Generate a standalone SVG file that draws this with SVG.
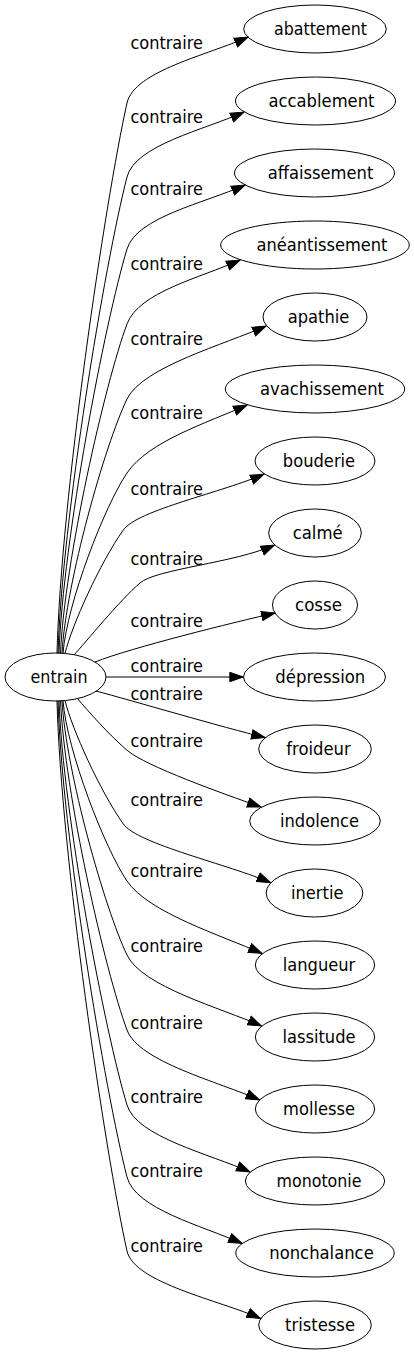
<svg xmlns="http://www.w3.org/2000/svg" width="414" height="1355" viewBox="0 0 414 1355">
<style>
.n ellipse{fill:none;stroke:#000;stroke-width:1}
text{font-family:"DejaVu Sans","Liberation Sans",sans-serif;font-size:18px;fill:#000;text-anchor:middle}
.e path{fill:none;stroke:#000;stroke-width:1;marker-end:url(#arr)}
</style>
<defs>
<marker id="arr" markerUnits="userSpaceOnUse" markerWidth="15" markerHeight="11" viewBox="0 0 15 11" refX="14" refY="5.5" orient="auto">
<path d="M0.5,0.8 L14,5.5 L0.5,10.2 Z" fill="#000" stroke="#000" stroke-width="1"/>
</marker>
</defs>
<rect width="414" height="1355" fill="#fff"/>
<g id="edges" class="e">
<path d="M57,653.3 C61,499 105,202 127,103 C134.1,71 208,55 248,37"/>
<path d="M58,653.3 C62,519.7 105,262.7 127,177 C135.2,145 204,130 244,112"/>
<path d="M59,653.3 C63,540 105,321.7 127,249 C136.7,217 205,203 245,185"/>
<path d="M60.5,653.3 C64.5,561 105,383.2 127,324 C138.9,292 200,278 240,260"/>
<path d="M62,653.3 C66,582 105,444.7 127,399 C142.4,367 226,344 266,326"/>
<path d="M63,653.4 C67,602.6 105,505.4 127,473 C148.7,441 207,423 247,405"/>
<path d="M65,653.4 C72,625 100,563 123.3,530 C137.3,510 224,492 264,474"/>
<path d="M74,655 C85,643 120,600 140,583 C156,569 234.5,563 274.5,545"/>
<path d="M95,662 C130,648 235,622 275,613"/>
<path d="M106,677 L243.3,677"/>
<path d="M96,691 C130,700 225,728 265,737.5"/>
<path d="M77,698 C88,711 110,736 128,751 C146,766 221,793 261,807"/>
<path d="M65,700.6 C72,729 100,791 123.3,824 C137.3,844 230.5,865 270.5,882.7"/>
<path d="M63,700.6 C67,751.4 105,848.6 127,881 C148.7,913 222,935.5 262,953.5"/>
<path d="M62,700.7 C66,772 105,909.3 127,955 C142.4,987 221.5,1008 261.5,1026"/>
<path d="M60.5,700.7 C64.5,793 105,970.8 127,1030 C138.9,1062 219.5,1082 259.5,1100"/>
<path d="M59,700.7 C63,814 105,1032.3 127,1105 C136.7,1137 210,1154 250,1172"/>
<path d="M58,700.7 C62,834.3 105,1091.3 127,1177 C135.2,1209 202,1225.5 242,1243.5"/>
<path d="M57,700.7 C61,855 105,1152 127,1251 C134.1,1283 220.5,1300.5 260.5,1318.5"/>
</g>
<g id="edge-labels">
<text x="166.7" y="49" textLength="72.5" lengthAdjust="spacingAndGlyphs">contraire</text>
<text x="166.7" y="123" textLength="72.5" lengthAdjust="spacingAndGlyphs">contraire</text>
<text x="166.7" y="195" textLength="72.5" lengthAdjust="spacingAndGlyphs">contraire</text>
<text x="166.7" y="270" textLength="72.5" lengthAdjust="spacingAndGlyphs">contraire</text>
<text x="166.7" y="345" textLength="72.5" lengthAdjust="spacingAndGlyphs">contraire</text>
<text x="166.7" y="419" textLength="72.5" lengthAdjust="spacingAndGlyphs">contraire</text>
<text x="166.7" y="495" textLength="72.5" lengthAdjust="spacingAndGlyphs">contraire</text>
<text x="166.7" y="565" textLength="72.5" lengthAdjust="spacingAndGlyphs">contraire</text>
<text x="166.7" y="627" textLength="72.5" lengthAdjust="spacingAndGlyphs">contraire</text>
<text x="166.7" y="672" textLength="72.5" lengthAdjust="spacingAndGlyphs">contraire</text>
<text x="166.7" y="700" textLength="72.5" lengthAdjust="spacingAndGlyphs">contraire</text>
<text x="166.7" y="747" textLength="72.5" lengthAdjust="spacingAndGlyphs">contraire</text>
<text x="166.7" y="806" textLength="72.5" lengthAdjust="spacingAndGlyphs">contraire</text>
<text x="166.7" y="877" textLength="72.5" lengthAdjust="spacingAndGlyphs">contraire</text>
<text x="166.7" y="952" textLength="72.5" lengthAdjust="spacingAndGlyphs">contraire</text>
<text x="166.7" y="1029" textLength="72.5" lengthAdjust="spacingAndGlyphs">contraire</text>
<text x="166.7" y="1103" textLength="72.5" lengthAdjust="spacingAndGlyphs">contraire</text>
<text x="166.7" y="1177" textLength="72.5" lengthAdjust="spacingAndGlyphs">contraire</text>
<text x="166.7" y="1252" textLength="72.5" lengthAdjust="spacingAndGlyphs">contraire</text>
</g>
<g id="entrain" class="n"><ellipse cx="55.5" cy="677" rx="50.5" ry="24"/><text x="59" y="683" textLength="57" lengthAdjust="spacingAndGlyphs">entrain</text></g>
<g id="abattement" class="n"><ellipse cx="315" cy="29" rx="71.3" ry="24"/><text x="320.5" y="35" textLength="93" lengthAdjust="spacingAndGlyphs">abattement</text></g>
<g id="accablement" class="n"><ellipse cx="315.5" cy="101" rx="80" ry="24"/><text x="321.5" y="107" textLength="106" lengthAdjust="spacingAndGlyphs">accablement</text></g>
<g id="affaissement" class="n"><ellipse cx="314.5" cy="173" rx="80" ry="24"/><text x="320.5" y="179" textLength="105.6" lengthAdjust="spacingAndGlyphs">affaissement</text></g>
<g id="aneantissement" class="n"><ellipse cx="315" cy="245" rx="94.3" ry="24"/><text x="322" y="251" textLength="131" lengthAdjust="spacingAndGlyphs">anéantissement</text></g>
<g id="apathie" class="n"><ellipse cx="315" cy="317" rx="52" ry="24"/><text x="318.5" y="323" textLength="61.6" lengthAdjust="spacingAndGlyphs">apathie</text></g>
<g id="avachissement" class="n"><ellipse cx="315" cy="389" rx="89.7" ry="24"/><text x="322" y="395" textLength="124" lengthAdjust="spacingAndGlyphs">avachissement</text></g>
<g id="bouderie" class="n"><ellipse cx="315" cy="461" rx="60" ry="24"/><text x="319" y="467" textLength="72.3" lengthAdjust="spacingAndGlyphs">bouderie</text></g>
<g id="calme" class="n"><ellipse cx="315" cy="533" rx="46.3" ry="24"/><text x="317.7" y="539" textLength="50" lengthAdjust="spacingAndGlyphs">calmé</text></g>
<g id="cosse" class="n"><ellipse cx="315" cy="605" rx="42.5" ry="24"/><text x="318.5" y="611" textLength="47" lengthAdjust="spacingAndGlyphs">cosse</text></g>
<g id="depression" class="n"><ellipse cx="314.5" cy="677" rx="71" ry="24"/><text x="320.3" y="683" textLength="90" lengthAdjust="spacingAndGlyphs">dépression</text></g>
<g id="froideur" class="n"><ellipse cx="315" cy="749" rx="56.3" ry="24"/><text x="318.5" y="755" textLength="64.4" lengthAdjust="spacingAndGlyphs">froideur</text></g>
<g id="indolence" class="n"><ellipse cx="315" cy="821" rx="65.3" ry="24"/><text x="319.5" y="827" textLength="79.1" lengthAdjust="spacingAndGlyphs">indolence</text></g>
<g id="inertie" class="n"><ellipse cx="314.5" cy="893" rx="48.3" ry="24"/><text x="317.2" y="899" textLength="52.5" lengthAdjust="spacingAndGlyphs">inertie</text></g>
<g id="langueur" class="n"><ellipse cx="315" cy="965" rx="59.7" ry="24"/><text x="319" y="971" textLength="72.6" lengthAdjust="spacingAndGlyphs">langueur</text></g>
<g id="lassitude" class="n"><ellipse cx="315" cy="1037" rx="59.7" ry="24"/><text x="319" y="1043" textLength="73.1" lengthAdjust="spacingAndGlyphs">lassitude</text></g>
<g id="mollesse" class="n"><ellipse cx="315" cy="1109" rx="59.7" ry="24"/><text x="319" y="1115" textLength="71.9" lengthAdjust="spacingAndGlyphs">mollesse</text></g>
<g id="monotonie" class="n"><ellipse cx="315" cy="1181" rx="69.7" ry="24"/><text x="319" y="1187" textLength="85" lengthAdjust="spacingAndGlyphs">monotonie</text></g>
<g id="nonchalance" class="n"><ellipse cx="315" cy="1253" rx="79.2" ry="24"/><text x="321.5" y="1259" textLength="104.5" lengthAdjust="spacingAndGlyphs">nonchalance</text></g>
<g id="tristesse" class="n"><ellipse cx="315" cy="1325" rx="56.3" ry="24"/><text x="320" y="1331" textLength="70" lengthAdjust="spacingAndGlyphs">tristesse</text></g>
</svg>
